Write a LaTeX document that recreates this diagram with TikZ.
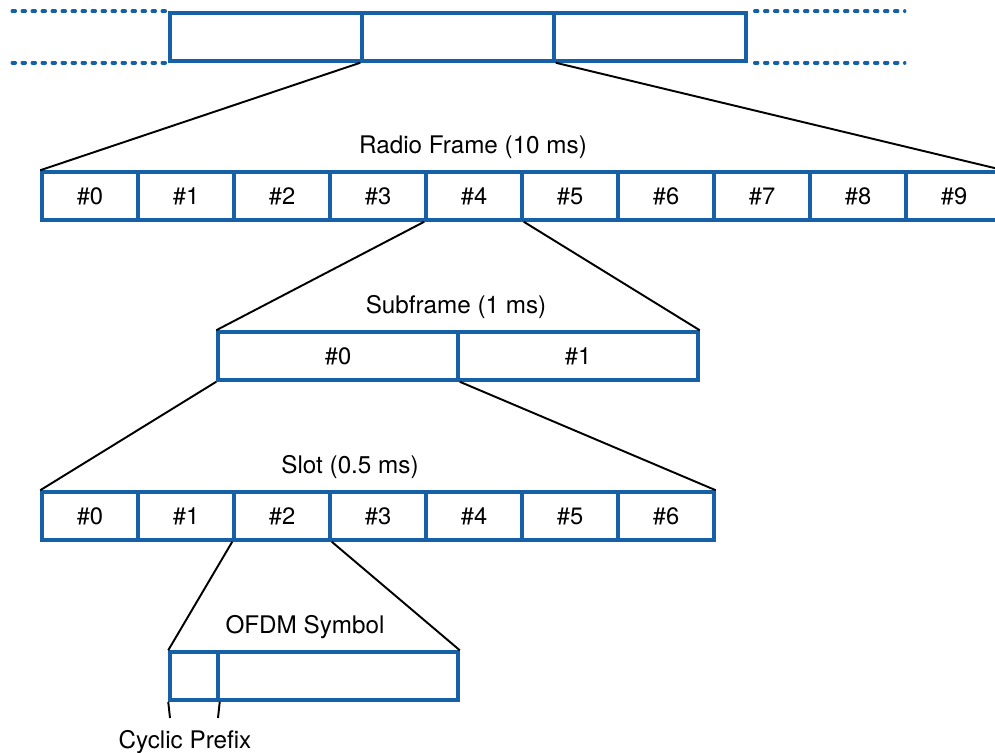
\documentclass[tikz,border=0pt]{standalone}
\usepackage{fontspec}
\setmainfont{TeX Gyre Heros}
\usepackage{xcolor}
\usepackage{tikz}
\usetikzlibrary{positioning}

\definecolor{frameblue}{RGB}{22,96,166}

\begin{document}
\begin{tikzpicture}[
  x=0.02cm, y=-0.02cm,
  cell/.style={draw=frameblue, line width=2pt, minimum height=0.96cm,
    minimum width=1.92cm, inner sep=0pt, font=\fontsize{13.5}{16}\selectfont},
  wide/.style={cell, minimum width=3.84cm},
  half/.style={cell, minimum width=4.8cm},
  cpcell/.style={cell, minimum width=0.96cm},
  title/.style={font=\fontsize{13.8}{16}\selectfont, inner sep=0pt},
  zoom/.style={line width=1.1pt, black},
  ext/.style={draw=frameblue, line width=2pt, line cap=round,
    dash pattern=on 0.06cm off 0.14cm}
]
\useasboundingbox (0,0) rectangle (995,753);

% time line with one radio frame picked out
\node[wide] (top1) at (266,37) {};
\node[wide] (top2) at (458,37) {};
\node[wide] (top3) at (650,37) {};
\draw[ext] ([xshift=-0.06cm]top1.north west) -- ++(-155,0);
\draw[ext] ([xshift=-0.06cm]top1.south west) -- ++(-155,0);
\draw[ext] ([xshift=0.14cm]top3.north east) -- ++(150,0);
\draw[ext] ([xshift=0.14cm]top3.south east) -- ++(150,0);

% radio frame: ten subframes
\node[title] (rftitle) at (473,147) {Radio Frame (10 ms)};
\node[cell] (rf0) at (90,196)  {\#0};
\node[cell] (rf1) at (186,196) {\#1};
\node[cell] (rf2) at (282,196) {\#2};
\node[cell] (rf3) at (378,196) {\#3};
\node[cell] (rf4) at (474,196) {\#4};
\node[cell] (rf5) at (570,196) {\#5};
\node[cell] (rf6) at (666,196) {\#6};
\node[cell] (rf7) at (762,196) {\#7};
\node[cell] (rf8) at (858,196) {\#8};
\node[cell] (rf9) at (954,196) {\#9};

\draw[zoom] (top2.south west) -- (rf0.north west);
\draw[zoom] (top2.south east) -- (rf9.north east);

% subframe: two slots
\node[title] (sftitle) at (456,307) {Subframe (1 ms)};
\node[half] (sf0) at (338,356) {\#0};
\node[half] (sf1) at (578,356) {\#1};

\draw[zoom] (rf4.south west) -- (sf0.north west);
\draw[zoom] (rf4.south east) -- (sf1.north east);

% slot: seven symbols
\node[title] (sltitle) at (350,467) {Slot (0.5 ms)};
\node[cell] (sl0) at (90,516)  {\#0};
\node[cell] (sl1) at (186,516) {\#1};
\node[cell] (sl2) at (282,516) {\#2};
\node[cell] (sl3) at (378,516) {\#3};
\node[cell] (sl4) at (474,516) {\#4};
\node[cell] (sl5) at (570,516) {\#5};
\node[cell] (sl6) at (666,516) {\#6};

\draw[zoom] (sf0.south west) -- (sl0.north west);
\draw[zoom] (sf0.south east) -- (sl6.north east);

% OFDM symbol with cyclic prefix
\node[title] (symtitle) at (305,627) {OFDM Symbol};
\node[cpcell] (cp) at (194,676) {};
\node[half] (sym) at (338,676) {};

\draw[zoom] (sl2.south west) -- (cp.north west);
\draw[zoom] (sl2.south east) -- (sym.north east);

\coordinate (cpa) at (170,718);
\coordinate (cpb) at (218,718);
\draw[zoom] (cp.south west) -- (cpa);
\draw[zoom] (cp.south east) -- (cpb);
\node[title] (cptitle) at (185,742) {Cyclic Prefix};
\end{tikzpicture}
\end{document}
